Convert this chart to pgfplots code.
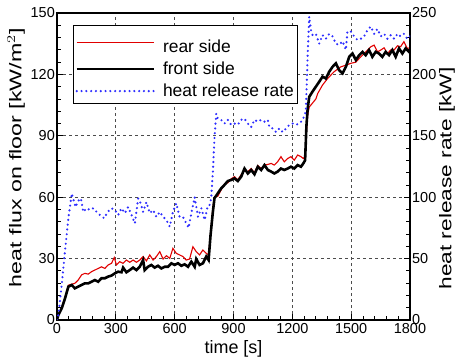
\documentclass[border=0pt]{standalone}
\usepackage{fontspec}
\setmainfont{Liberation Sans}
\usepackage{pgfplots}
\pgfplotsset{compat=1.18}
\definecolor{hrrblue}{RGB}{45,45,255}
\definecolor{rearred}{RGB}{225,0,0}
\pgfplotsset{
  every axis/.append style={
    font=\fontsize{14.5}{16}\selectfont,
    /pgf/number format/assume math mode=true,
    /pgf/number format/1000 sep={},
    scale only axis, width=353bp, height=307bp,
    xmin=0, xmax=1800,
    axis line style={line width=1.6bp},
    major tick length=6bp, minor tick length=4bp,
    every tick/.style={black, line width=1bp},
    every minor tick/.style={black, line width=0.8bp},
    yticklabel style={inner sep=2bp},
  },
}
\begin{document}
\begin{tikzpicture}
\begin{axis}[
  name=main,
  ymin=0, ymax=150,
  xtick={0,300,...,1800}, ytick={0,30,...,150},
  minor x tick num=4, minor y tick num=4,
  xtick pos=bottom, ytick pos=left,
  grid=major, major grid style={gray!60!black, line width=0.7bp, dash pattern=on 3bp off 3bp},
  xlabel={time [s]},
  ylabel={heat flux on floor [kW/m$^2$]},
  xlabel style={at={(axis description cs:0.5,-0.094)}, anchor=center, font=\fontsize{18}{20}\selectfont},
  ylabel style={at={(axis description cs:-0.116,0.529)}, anchor=center, font=\fontsize{17}{19}\selectfont, xscale=1.37},
]
\addplot[rearred, line width=1.1bp] coordinates {
(0,0) (7,2) (24,6) (41,11) (58,17) (75,17.5) (91,17.9) (108,19.5) (125,22) (142,22.8) (159,22.4) (176,23.6) (193,24.4) (210,25.2) (227,26) (244,25.2) (261,26.9) (278,27.7) (292,30.5) (303,26.9) (320,28.5) (337,27.7) (354,29.3) (371,28.2) (388,29.3) (405,28.2) (422,29.3) (439,31) (456,28.9) (473,31.8) (490,29.3) (507,31) (524,33.4) (541,29.8) (558,31.4) (575,30.1) (591,35) (608,32.6) (625,31.8) (642,31) (659,29.3) (676,29.8) (693,35.8) (710,33.4) (727,31.8) (744,34.2) (761,32.6) (773,31.8) (783,42) (795,55) (803,60) (820,60.5) (837,63.5) (854,66.5) (871,67) (888,69) (905,70) (922,68.5) (939,71) (956,73) (973,72.5) (990,74) (1007,72) (1024,75.5) (1041,74) (1058,75.7) (1075,76) (1092,76.5) (1108,75.7) (1125,77.3) (1142,79.8) (1159,77.3) (1176,78.9) (1193,79.8) (1210,78.1) (1227,80.6) (1244,79.8) (1256,78.9) (1265,80) (1272,92) (1278,100) (1286,104) (1303,106) (1320,108) (1329,110.6) (1354,114.8) (1380,118) (1413,121.3) (1447,123.7) (1473,124.5) (1498,125.4) (1524,126) (1549,128.6) (1575,131) (1600,133.5) (1617,134.3) (1634,131) (1651,131.9) (1668,133) (1685,130.2) (1702,132) (1719,131.9) (1736,134) (1752,133.5) (1769,136) (1786,132.7) (1800,133)
};
\addplot[black, line width=2.6bp] coordinates {
(0,0) (7,2.5) (24,5.7) (41,10.6) (58,16.3) (75,17.1) (91,15.5) (108,16.3) (125,17.1) (142,17.9) (159,17.9) (176,18.7) (193,19.5) (210,18.7) (227,20.4) (244,20.4) (261,21.2) (278,21.7) (295,22.8) (312,23.6) (329,23.3) (337,25.6) (354,23.3) (371,24.4) (388,25.6) (405,24.4) (422,26) (439,29.3) (447,24.4) (464,26) (481,26.9) (498,25.6) (515,26.5) (532,25.2) (549,26) (566,26) (583,27.7) (600,26.9) (617,27.7) (634,26.5) (651,27.2) (668,26) (685,28.5) (702,26) (710,29.8) (727,26.9) (744,27.7) (761,31) (773,29.3) (783,41.5) (795,53) (803,59.5) (820,61.9) (837,64.3) (854,66) (871,67.9) (888,68.4) (905,69.2) (922,67.9) (939,70) (956,74) (973,71.6) (990,73.3) (1007,71.2) (1024,74.9) (1041,73.3) (1058,75.7) (1075,73.3) (1092,72.5) (1108,71.6) (1125,72.5) (1142,74) (1159,73.3) (1176,74) (1193,74.9) (1210,74) (1227,75.7) (1244,74.9) (1256,76.5) (1265,78) (1272,95) (1278,103) (1286,109) (1303,111.6) (1320,114) (1337,116.4) (1354,118.9) (1371,118) (1388,121.3) (1405,123.7) (1422,125.4) (1439,122) (1456,120.5) (1473,123.7) (1490,128.6) (1507,130.2) (1524,127) (1541,129.4) (1558,131) (1574,129.4) (1591,131.9) (1608,128.6) (1625,131) (1642,130.2) (1659,128.6) (1676,131) (1693,129.4) (1710,131.9) (1727,128.6) (1744,132.7) (1761,130.2) (1778,132.7) (1795,131) (1800,130.5)
};
\end{axis}
\begin{axis}[
  ymin=0, ymax=250,
  ytick={0,50,...,250}, minor y tick num=4,
  axis y line*=right, axis x line=none,
  ylabel={heat release rate [kW]},
  ylabel style={at={(axis description cs:1.105,0.461)}, anchor=center, font=\fontsize{17}{19}\selectfont, xscale=1.34},
  legend style={at={(0.0453,0.961)}, anchor=north west, draw=black, line width=0.9bp, fill=white,
    inner xsep=2bp, inner ysep=3bp, row sep=4bp,
    font=\fontsize{17.5}{20}\selectfont, cells={anchor=west}},
  legend cell align=left,
  legend image code/.code={\draw[#1] (0bp,0bp) -- (77bp,0bp); \path (83bp,0bp);},
]
\addlegendimage{rearred, line width=1.1bp}
\addlegendentry{\rule{0pt}{22bp}rear side}
\addlegendimage{black, line width=2.6bp}
\addlegendentry{front side}
\addplot[hrrblue, line width=2.4bp, line cap=round, dash pattern=on 0bp off 4.8bp] coordinates {
(0,0) (7,4) (24,28.5) (40,55) (58,82.8) (75,103) (95,92) (108,97) (122,99) (134,88) (151,91) (168,89.6) (185,91) (202,88) (219,85.5) (241,82.8) (258,88) (278,91) (295,89.6) (312,85.5) (329,91) (346,87) (363,92) (380,85.5) (397,78.7) (414,99) (427,95) (439,88) (456,96) (473,87) (490,89.6) (507,84) (524,88) (541,84) (558,81.4) (575,76) (591,88) (608,95) (625,84) (642,84) (659,78.7) (671,75) (685,87) (702,100) (719,84) (736,91) (753,81.4) (769,93) (778,93.6) (786,99) (795,120.8) (803,148) (812,168) (820,164) (837,163) (854,160) (871,163) (888,159) (905,160) (922,159) (939,163) (956,164) (973,160) (990,157) (1007,163) (1024,161.5) (1041,163) (1058,161.5) (1075,163) (1083,157) (1100,156) (1117,153) (1134,156) (1151,153) (1168,156) (1185,159) (1202,160) (1219,159) (1236,160) (1253,163) (1269,170) (1278,215) (1286,247) (1295,236) (1303,232) (1320,233) (1337,225) (1354,232) (1371,229) (1388,233) (1405,231) (1422,225) (1439,224) (1456,227) (1473,220) (1481,235) (1498,235) (1515,231) (1532,228) (1549,229) (1566,231) (1583,236) (1600,239) (1617,233) (1634,237) (1651,231) (1668,233) (1685,229) (1702,232) (1719,229) (1736,233) (1752,231) (1769,233) (1786,229) (1800,231)
};
\addlegendentry{heat release rate}
\end{axis}
\pgfresetboundingbox
\path[use as bounding box] ([shift={(-57bp,-40bp)}]main.south west) rectangle ([shift={(49bp,13bp)}]main.north east);
\end{tikzpicture}
\end{document}
